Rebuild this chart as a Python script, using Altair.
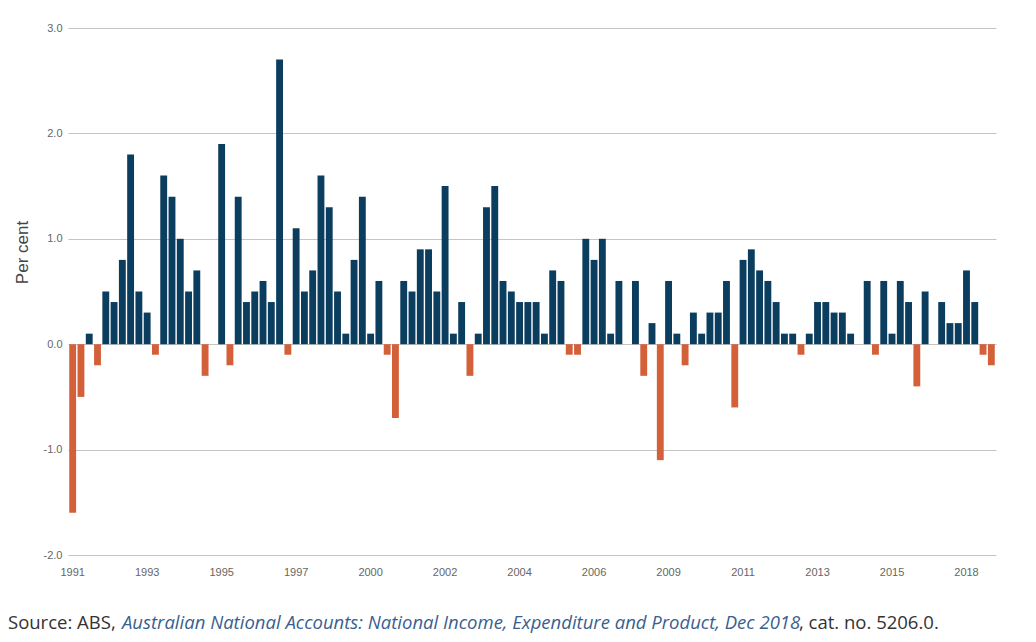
import altair as alt
import pandas as pd

# quarterly change, per cent (Mar-1991 .. Dec-2018)
start_year = 1991
values = [
    -1.6, -0.5, 0.1, -0.2, 0.5, 0.4, 0.8, 1.8, 0.5, 0.3, -0.1, 1.6, 1.4, 1.0,
    0.5, 0.7, -0.3, 0.0, 1.9, -0.2, 1.4, 0.4, 0.5, 0.6, 0.4, 2.7, -0.1, 1.1,
    0.5, 0.7, 1.6, 1.3, 0.5, 0.1, 0.8, 1.4, 0.1, 0.6, -0.1, -0.7, 0.6, 0.5,
    0.9, 0.9, 0.5, 1.5, 0.1, 0.4, -0.3, 0.1, 1.3, 1.5, 0.6, 0.5, 0.4, 0.4,
    0.4, 0.1, 0.7, 0.6, -0.1, -0.1, 1.0, 0.8, 1.0, 0.1, 0.6, 0.0, 0.6, -0.3,
    0.2, -1.1, 0.6, 0.1, -0.2, 0.3, 0.1, 0.3, 0.3, 0.6, -0.6, 0.8, 0.9, 0.7,
    0.6, 0.4, 0.1, 0.1, -0.1, 0.1, 0.4, 0.4, 0.3, 0.3, 0.1, 0.0, 0.6, -0.1,
    0.6, 0.1, 0.6, 0.4, -0.4, 0.5, 0.0, 0.4, 0.2, 0.2, 0.7, 0.4, -0.1, -0.2,
]
quarters = [f"{start_year + i // 4}-Q{i % 4 + 1}" for i in range(len(values))]

tick_quarters = ["1991-Q1", "1993-Q2", "1995-Q3", "1997-Q4", "2000-Q1",
                 "2002-Q2", "2004-Q3", "2006-Q4", "2009-Q1", "2011-Q2",
                 "2013-Q3", "2015-Q4", "2018-Q1"]
y_ticks = [-2, -1, 0, 1, 2, 3]

source_plain = "Source: ABS,"
source_title = "Australian National Accounts: National Income, Expenditure and Product, Dec 2018"
source_tail = ", cat. no. 5206.0."

df = pd.DataFrame({"quarter": quarters, "value": values})
df["sign"] = ["neg" if v < 0 else "pos" for v in values]

AXIS_FONT = "Liberation Sans"

bars = alt.Chart(df).mark_bar().encode(
    x=alt.X("quarter:O", sort=quarters, title=None,
            scale=alt.Scale(paddingInner=0.17, paddingOuter=0.15),
            axis=alt.Axis(values=tick_quarters, labelExpr="substring(datum.value, 0, 4)",
                          labelAngle=0, ticks=False, domain=False, grid=False,
                          labelPadding=11, labelFontSize=11, labelColor="#666666",
                          labelFont=AXIS_FONT)),
    y=alt.Y("value:Q", title="Per cent",
            scale=alt.Scale(domain=[-2, 3], nice=False),
            axis=alt.Axis(values=y_ticks,
                          labelExpr="datum.value < 0 ? '-' + format(-datum.value, '.1f') : format(datum.value, '.1f')",
                          domain=False, ticks=False,
                          grid=True, gridColor="#c4c4c4", gridWidth=1.2,
                          labelPadding=6, labelFontSize=11, labelColor="#666666",
                          labelFont=AXIS_FONT,
                          titleFont=AXIS_FONT, titleFontSize=17, titleFontWeight="normal",
                          titleColor="#444444", titleAngle=270, titleX=-46, titleY=224,
                          titleAlign="center", titleBaseline="middle")),
    color=alt.Color("sign:N", legend=None,
                    scale=alt.Scale(domain=["pos", "neg"], range=["#0b3d5e", "#d4603a"])),
)

src_font = "Open Sans"
src1 = alt.Chart(pd.DataFrame({"t": [source_plain]})).mark_text(
    align="left", baseline="alphabetic", font=src_font, fontSize=18.5, color="#333333"
).encode(text="t:N", x=alt.value(-60), y=alt.value(601))

src2 = alt.Chart(pd.DataFrame({"t": [source_title]})).mark_text(
    align="left", baseline="alphabetic", font=src_font, fontSize=18.5, fontStyle="italic",
    color="#3a5f8f"
).encode(text="t:N", x=alt.value(54), y=alt.value(601))

src3 = alt.Chart(pd.DataFrame({"t": [source_tail]})).mark_text(
    align="left", baseline="alphabetic", font=src_font, fontSize=18.5, color="#333333"
).encode(text="t:N", x=alt.value(731), y=alt.value(601))

chart = (bars + src1 + src2 + src3).properties(
    width=928, height=527,
    padding={"left": 60, "top": 20, "right": 24, "bottom": 79},
    autosize=alt.AutoSizeParams(type="none"),
    background="white",
).configure_view(stroke=None)

chart.save("out.html", embed_options={"renderer": "svg", "actions": False})
